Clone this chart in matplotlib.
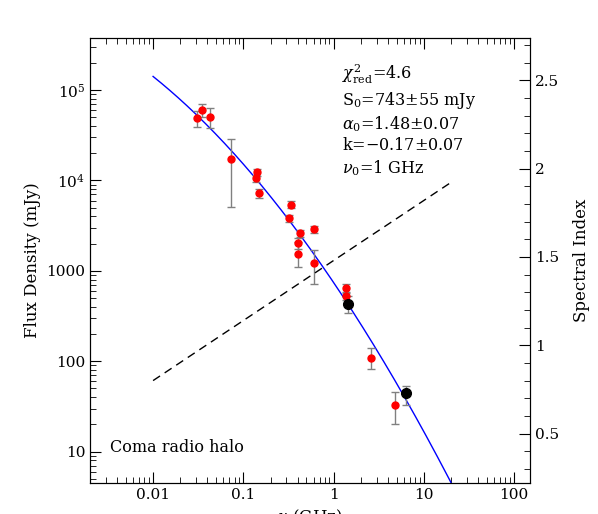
import matplotlib
matplotlib.use("Agg")
import matplotlib.pyplot as plt
import numpy as np
from matplotlib.ticker import FixedLocator, MultipleLocator, NullFormatter

plt.rcParams['font.family'] = ['DejaVu Serif']
plt.rcParams['mathtext.fontset'] = 'dejavuserif'

# red points: frequency (GHz), flux (mJy), lower / upper error bound (mJy)
nu_red = [0.031, 0.0348, 0.043, 0.073, 0.142, 0.137, 0.149, 0.338, 0.32, 0.42, 0.40, 0.40, 0.60, 0.60, 1.38, 1.38, 2.6, 4.76]
s_red = [48600, 60000, 50600, 17100, 12300, 10600, 7240, 5380, 3850, 2600, 2020, 1520, 2870, 1220, 650, 525, 110, 33]
lo_red = [39000, 50000, 37600, 5100, 11200, 9600, 6400, 4900, 3500, 2350, 1750, 1100, 2650, 710, 590, 480, 82, 20]
hi_red = [59000, 70000, 63700, 28700, 13300, 11600, 8100, 5900, 4200, 2850, 2300, 2100, 3100, 1690, 710, 570, 141, 46]
# black points
nu_blk = [1.44, 6.36]
s_blk = [430, 44]
lo_blk = [343, 33]
hi_blk = [530, 53]

# fit parameters
S0, alpha0, k, nu0 = 743.0, 1.48, -0.17, 1.0

fig = plt.figure(figsize=(5.98, 5.14), dpi=100)
ax = fig.add_axes([90/598, 1 - 483/514, 440/598, 445/514])

nu = np.logspace(np.log10(0.01), np.log10(30), 300)
lx = np.log10(nu / nu0)
ax.plot(nu, S0 * 10**(-alpha0 * lx + k * lx**2), color='blue', lw=1)

def errs(s, lo, hi):
    s = np.array(s); return [s - np.array(lo), np.array(hi) - s]

ax.errorbar(nu_red, s_red, yerr=errs(s_red, lo_red, hi_red), fmt='o', color='red', ms=5,
            ecolor='gray', elinewidth=1, capsize=3, zorder=3)
ax.errorbar(nu_blk, s_blk, yerr=errs(s_blk, lo_blk, hi_blk), fmt='o', color='black', ms=7,
            ecolor='gray', elinewidth=1, capsize=3, zorder=3)

ax.set_xscale('log'); ax.set_yscale('log')
ax.set_xlim(0.002, 150); ax.set_ylim(4.5, 3.77e5)
ax.set_xticks([0.01, 0.1, 1, 10, 100])
ax.set_xticklabels(['0.01', '0.1', '1', '10', '100'])
ax.set_yticks([10, 100, 1000, 1e4, 1e5])
ax.set_yticklabels(['10', '100', '1000', r'$10^4$', r'$10^5$'])
ax.tick_params(which='both', direction='in', top=True, labelsize=11)
ax.tick_params(which='major', length=8)
ax.tick_params(which='minor', length=4)
ax.set_xlabel(r'$\nu$ (GHz)', fontsize=12)
ax.set_ylabel('Flux Density (mJy)', fontsize=12)

ax2 = ax.twinx()
ax2.set_ylim(0.22, 2.74)
ax2.yaxis.set_major_locator(FixedLocator([0.5, 1, 1.5, 2, 2.5]))
ax2.set_yticklabels(['0.5', '1', '1.5', '2', '2.5'])
ax2.yaxis.set_minor_locator(MultipleLocator(0.1))
ax2.tick_params(which='both', direction='in', labelsize=11)
ax2.tick_params(which='major', length=8)
ax2.tick_params(which='minor', length=4)
ax2.set_ylabel('Spectral Index', fontsize=12, labelpad=10)
ax.tick_params(axis='y', which='both', right=False)

nl = np.logspace(-2, np.log10(20), 50)
ax2.plot(nl, alpha0 - 2 * k * np.log10(nl / nu0), 'k--', lw=1, dashes=(6, 4))

txt = (r'$\chi^2_{\rm red}$=4.6' '\n' r'S$_0$=743$\pm$55 mJy' '\n' r'$\alpha_0$=1.48$\pm$0.07' '\n'
       r'k=$-$0.17$\pm$0.07' '\n' r'$\nu_0$=1 GHz')
ax.text(0.572, 0.945, txt, transform=ax.transAxes, va='top', fontsize=11.5, linespacing=1.25)
ax.text(0.045, 0.07, 'Coma radio halo', transform=ax.transAxes, fontsize=11.5)

fig.savefig('out.png', dpi=100)
